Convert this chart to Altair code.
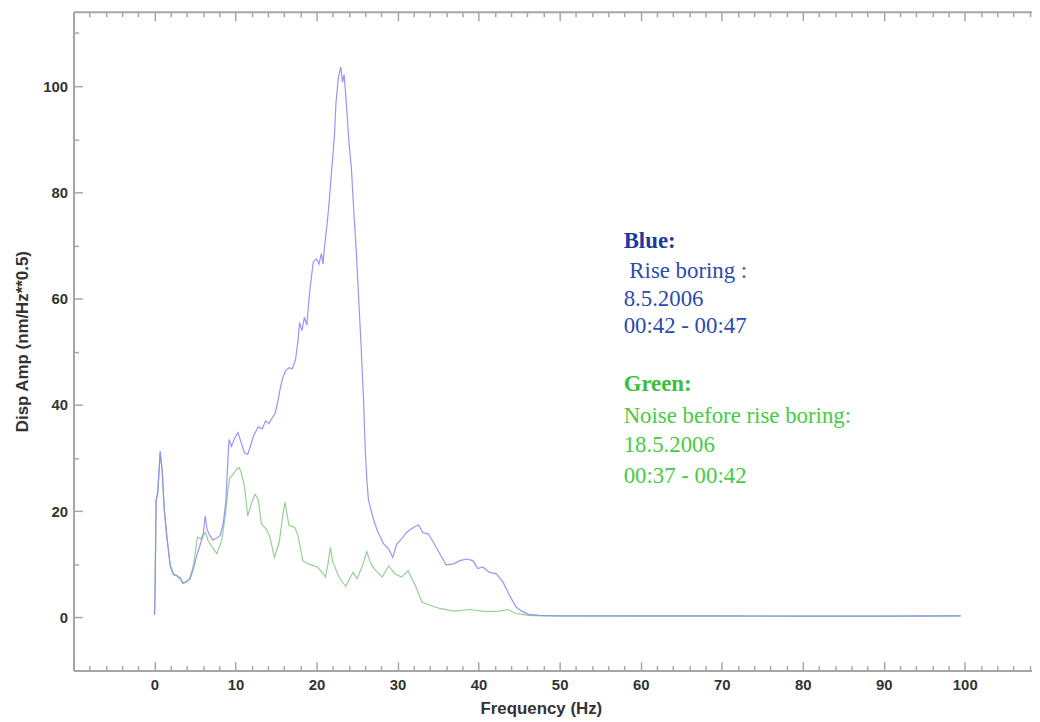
import altair as alt
import pandas as pd

# ---- data ----
blue_freq = [0.0, 0.05, 0.2, 0.4, 0.7, 0.95, 1.2, 1.55, 1.95, 2.35, 2.75, 3.2, 3.5, 4.0, 4.4, 4.8,
             5.2, 5.6, 6.0, 6.25, 6.5, 6.85, 7.2, 7.5, 8.1, 8.5, 8.8, 9.0, 9.2, 9.5, 9.9, 10.3,
             10.7, 11.1, 11.5, 11.9, 12.2, 12.8, 13.3, 13.7, 14.1, 14.5, 14.9, 15.2, 15.5, 15.8,
             16.2, 16.6, 17.0, 17.4, 17.7, 17.9, 18.2, 18.5, 18.8, 19.1, 19.4, 19.6, 20.0, 20.3,
             20.6, 20.8, 21.0, 21.3, 21.6, 21.8, 22.0, 22.2, 22.4, 22.7, 22.9, 23.0, 23.2, 23.4,
             23.6, 23.8, 24.0, 24.3, 24.6, 24.9, 25.2, 25.5, 25.8, 26.0, 26.2, 26.4, 26.9, 27.5,
             28.3, 28.9, 29.4, 29.9, 30.5, 31.1, 32.0, 32.6, 33.1, 33.8, 34.4, 35.2, 36.0, 36.9,
             37.7, 38.5, 39.3, 39.9, 40.5, 41.3, 42.2, 43.0, 43.8, 44.6, 45.4, 46.2, 47.5, 50.0,
             60.0, 70.0, 80.0, 90.0, 99.5]
blue_amp = [0.5, 3.0, 22.0, 23.5, 31.3, 27.5, 20.4, 14.8, 9.8, 8.2, 7.9, 7.4, 6.5, 6.8, 7.3, 9.2,
            11.6, 13.5, 15.5, 19.1, 16.5, 15.4, 14.6, 14.8, 15.4, 17.9, 21.7, 27.9, 33.5, 32.2, 33.8, 34.8,
            32.9, 31.0, 30.7, 32.5, 34.1, 35.9, 35.5, 37.0, 36.5, 37.5, 38.5, 40.5, 43.0, 45.0,
            46.5, 47.0, 46.8, 48.5, 52.0, 55.5, 54.0, 56.5, 55.0, 60.5, 64.5, 67.0, 67.5, 66.5,
            68.5, 66.5, 70.0, 74.0, 79.0, 83.0, 86.7, 90.5, 97.0, 101.7, 103.0, 103.6, 100.7, 102.2,
            98.3, 94.0, 89.5, 84.5, 76.4, 69.0, 60.0, 51.0, 41.0, 32.0, 26.0, 22.2, 19.1, 16.3,
            13.8, 12.9, 11.3, 13.8, 14.8, 16.0, 17.0, 17.4, 16.0, 15.7, 14.2, 12.0, 9.9, 10.1,
            10.7, 11.0, 10.7, 9.2, 9.5, 8.5, 8.2, 6.7, 4.2, 2.0, 1.1, 0.6, 0.4, 0.3,
            0.3, 0.3, 0.25, 0.25, 0.3]

green_freq = [0.0, 0.05, 0.2, 0.4, 0.7, 0.95, 1.2, 1.55, 1.95, 2.35, 2.75, 3.2, 3.5, 4.0, 4.4, 4.8,
              5.3, 5.7, 6.0, 6.3, 6.6, 7.0, 7.7, 8.3, 8.8, 9.1, 9.3, 9.7, 10.1, 10.45, 10.7, 11.1,
              11.5, 12.0, 12.4, 12.8, 13.2, 13.8, 14.2, 14.8, 15.4, 15.8, 16.1, 16.6, 17.3, 17.7,
              18.3, 18.9, 19.5, 20.1, 20.7, 21.1, 21.4, 21.7, 22.0, 22.6, 23.0, 23.6, 24.5, 25.0,
              25.6, 26.2, 26.6, 27.1, 28.1, 28.9, 29.7, 30.5, 31.3, 31.7, 32.2, 33.0, 34.0, 35.2,
              36.9, 38.9, 40.9, 42.6, 43.6, 44.6, 46.2, 48.0, 60.0, 70.0, 80.0, 90.0, 99.5]
green_amp = [0.5, 3.0, 22.0, 23.5, 31.0, 27.5, 20.4, 14.8, 9.5, 8.0, 7.8, 7.2, 6.4, 6.7, 7.5, 9.8,
             15.1, 14.8, 15.5, 16.0, 14.5, 13.5, 12.0, 14.5, 20.0, 24.5, 26.3, 26.9, 27.9, 28.2, 27.3, 24.7,
             19.1, 21.7, 23.2, 22.2, 17.6, 16.6, 15.4, 11.3, 14.2, 19.0, 21.7, 17.3, 17.0, 15.5,
             10.7, 10.1, 9.8, 9.5, 8.5, 7.6, 10.0, 13.2, 10.5, 8.2, 7.0, 5.9, 8.5, 7.3,
             9.5, 12.4, 10.5, 9.2, 7.6, 9.7, 8.2, 7.6, 8.8, 7.5, 6.0, 2.9, 2.3, 1.7,
             1.2, 1.5, 1.1, 1.2, 1.5, 0.75, 0.4, 0.3, 0.25, 0.25, 0.25, 0.25, 0.3]

note_text = ["Blue:", "\u200b\u00a0Rise boring :", "8.5.2006", "00:42 - 00:47",
             "Green:", "Noise before rise boring:", "18.5.2006", "00:37 - 00:42"]
note_freq = [57.9] * 8
note_amp = [70.8, 65.2, 60.0, 54.8, 43.9, 37.9, 32.5, 26.7]
note_color = ["#1e3a9c", "#2a4bb0", "#2a4bb0", "#2a4bb0",
              "#3cbf3c", "#44cc44", "#44cc44", "#44cc44"]
note_bold = [True, False, False, False, True, False, False, False]

x_labels = list(range(0, 101, 10))
x_ticks = list(range(-10, 109, 2))
y_labels = list(range(0, 101, 20))
y_ticks = list(range(-10, 111, 10))

blue_df = pd.DataFrame({"f": blue_freq, "a": blue_amp})
green_df = pd.DataFrame({"f": green_freq, "a": green_amp})
notes = pd.DataFrame({"f": note_freq, "a": note_amp, "t": note_text,
                      "c": note_color, "b": note_bold})

W, H = 966, 664
xscale = alt.Scale(domain=[-10, 108.3], nice=False, zero=False)
yscale = alt.Scale(domain=[-10, 114], nice=False, zero=False)

AX = "#a6a6a6"
LABEL_FONT = "Liberation Sans"
NOTE_SIZE = 23

x_main = alt.Axis(orient="bottom", values=x_labels, ticks=False, grid=False,
                  domainColor=AX, domainWidth=2, labelFont=LABEL_FONT, labelFontSize=15,
                  labelFontWeight="bold", labelColor="#333333", labelPadding=7,
                  title="Frequency (Hz)", titleFont=LABEL_FONT, titleFontSize=17,
                  titleFontWeight="bold", titleColor="#333333", titlePadding=8,
                  titleX=471, titleAnchor="start", titleAlign="center")
x_inner_bottom = alt.Axis(orient="top", offset=-H, values=x_ticks, labels=False, domain=False,
                          grid=False, title=None, tickColor=AX, tickWidth=1.5,
                          tickSize={"condition": {"test": "datum.value % 10 === 0", "value": 9},
                                    "value": 5})
x_top = alt.Axis(orient="bottom", offset=-H, values=x_ticks, labels=False, domain=True,
                 domainColor=AX, domainWidth=2, grid=False, title=None, tickColor=AX,
                 tickWidth=1.5,
                 tickSize={"condition": {"test": "datum.value % 10 === 0", "value": 9},
                           "value": 5})
y_main = alt.Axis(orient="left", values=y_labels, ticks=False, grid=False,
                  domainColor=AX, domainWidth=2, labelFont=LABEL_FONT, labelFontSize=15,
                  labelFontWeight="bold", labelColor="#333333", labelPadding=6,
                  title="Disp Amp (nm/Hz**0.5)", titleFont=LABEL_FONT, titleFontSize=17,
                  titleFontWeight="bold", titleColor="#333333", titlePadding=11)
y_inner = alt.Axis(orient="right", offset=-W, values=y_ticks, labels=False, domain=False,
                   grid=False, title=None, tickColor=AX, tickWidth=1.5,
                   tickSize={"condition": {"test": "datum.value % 20 === 0", "value": 9},
                             "value": 5})

green = alt.Chart(green_df).mark_line(color="#8fcc8f", strokeWidth=1.2, opacity=0.95).encode(
    x=alt.X("f:Q", scale=xscale, axis=x_main),
    y=alt.Y("a:Q", scale=yscale, axis=y_main),
    order="f:Q",
)
blue = alt.Chart(blue_df).mark_line(color="#8a8af5", strokeWidth=1.2, opacity=0.9).encode(
    x=alt.X("f:Q", scale=xscale, axis=x_inner_bottom),
    y=alt.Y("a:Q", scale=yscale, axis=y_inner),
    order="f:Q",
)
notes_bold = alt.Chart(notes).transform_filter("datum.b").mark_text(
    align="left", baseline="middle", font="Liberation Serif", fontSize=NOTE_SIZE,
    fontWeight="bold"
).encode(
    x=alt.X("f:Q", scale=xscale, axis=x_top),
    y=alt.Y("a:Q", scale=yscale, axis=None),
    text="t:N",
    color=alt.Color("c:N", scale=None),
)
notes_plain = alt.Chart(notes).transform_filter("!datum.b").mark_text(
    align="left", baseline="middle", font="Liberation Serif", fontSize=NOTE_SIZE
).encode(
    x=alt.X("f:Q", scale=xscale, axis=None),
    y=alt.Y("a:Q", scale=yscale, axis=None),
    text="t:N",
    color=alt.Color("c:N", scale=None),
)

chart = alt.layer(green, blue, notes_bold, notes_plain).resolve_axis(
    x="independent", y="independent"
).properties(
    width=W, height=H,
    autosize=alt.AutoSizeParams(type="none"),
    padding={"left": 66, "top": 1, "right": 0, "bottom": 49},
    background="white",
).configure_view(stroke=None)

chart.save("out.html", embed_options={"renderer": "svg", "actions": False})
